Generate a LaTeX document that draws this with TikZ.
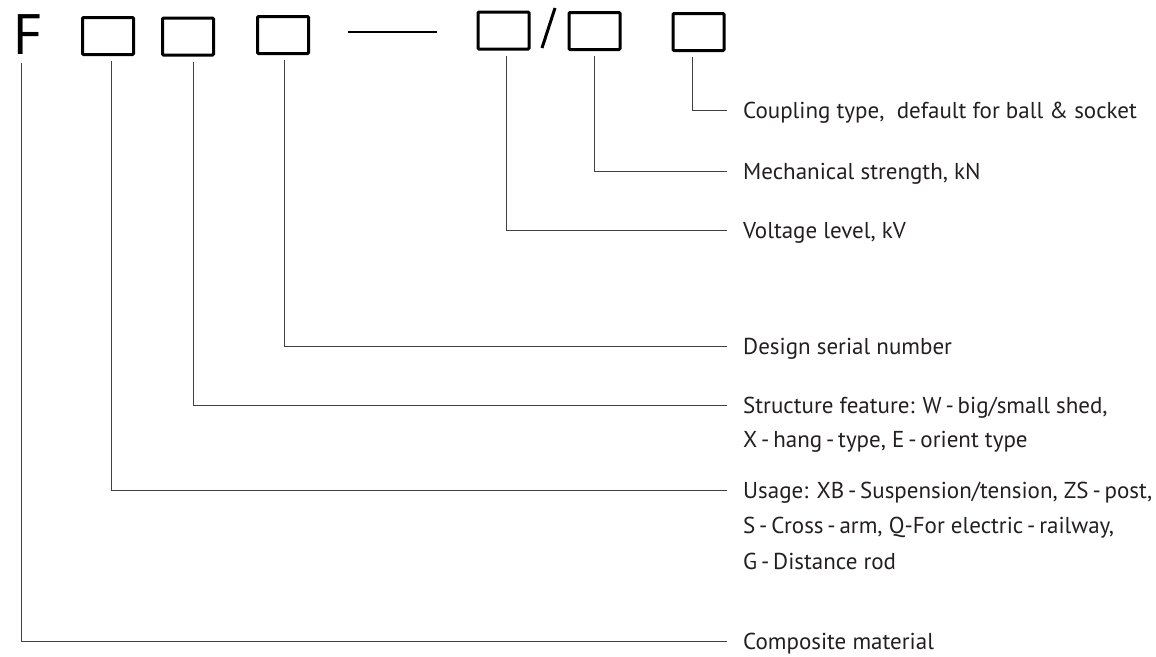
\documentclass[tikz,border=0pt]{standalone}
\usepackage{fontspec}
\setmainfont{PT Sans}
\definecolor{ink}{HTML}{231F20}
\begin{document}
\begin{tikzpicture}[x=1pt,y=-1pt,
  codebox/.style={draw=black,line width=3pt,minimum width=51pt,minimum height=37pt,inner sep=0pt,rounded corners=1pt},
  conn/.style={draw=black!75,line width=1pt},
  lbl/.style={anchor=west,inner xsep=16pt,inner ysep=0pt,text height=16pt,text depth=0pt,
    font=\fontsize{23}{27}\selectfont,text=ink},
  lblcont/.style={lbl}
]
\useasboundingbox (0,0) rectangle (1156,656);
% top row
\node[anchor=south west,inner sep=0pt,font=\fontsize{57}{60}\selectfont,text=black] (F) at (13,55) {F};
\node[codebox] (b1) at (108,36) {};
\node[codebox] (b2) at (188,36.5) {};
\node[codebox] (b3) at (283,35) {};
\node[codebox] (b4) at (503.5,30.5) {};
\node[codebox] (b5) at (594.5,31) {};
\node[codebox] (b6) at (698.5,32) {};
\coordinate (dashL) at (348,32);
\coordinate (dashR) at (437,32);
\draw[line width=2pt] (dashL) -- (dashR);
\coordinate (slashB) at (542,48);
\coordinate (slashT) at (555,8);
\draw[line width=3pt] (slashB) -- (slashT);
% labels
\node[lbl] (t6) at (727,110.5) {Coupling type,\ \ default for ball \& socket};
\node[lbl] (t5) at (727,171) {Mechanical strength, kN};
\node[lbl] (t4) at (727,230.5) {Voltage level, kV};
\node[lbl] (t3) at (727,346.5) {Design serial number};
\node[lbl] (t2) at (727,405) {Structure feature: W\,-\,big/small shed,};
\node[lblcont] (t2b) at (727,439.5) {X\,-\,hang\,-\,type, E\,-\,orient type};
\node[lbl] (t1) at (727,490.5) {Usage: XB\,-\,Suspension/tension, ZS\,-\,post,};
\node[lblcont] (t1b) at (727,525.5) {S\,-\,Cross\,-\,arm, Q-For electric\,-\,railway,};
\node[lblcont] (t1c) at (727,561.5) {G\,-\,Distance rod};
\node[lbl] (t0) at (727,641) {Composite material};
% connectors
\draw[conn] ([xshift=-6pt,yshift=-5pt]b6.south) |- (t6.west);
\draw[conn] ([yshift=-5pt]b5.south) |- (t5.west);
\draw[conn] ([xshift=2.5pt,yshift=-5pt]b4.south) |- (t4.west);
\draw[conn] ([xshift=1pt,yshift=-5pt]b3.south) |- (t3.west);
\draw[conn] ([xshift=5pt,yshift=-5pt]b2.south) |- (t2.west);
\draw[conn] ([xshift=3pt,yshift=-5pt]b1.south) |- (t1.west);
\draw[conn] ([xshift=8pt,yshift=-8pt]F.south west) |- (t0.west);
\end{tikzpicture}
\end{document}
